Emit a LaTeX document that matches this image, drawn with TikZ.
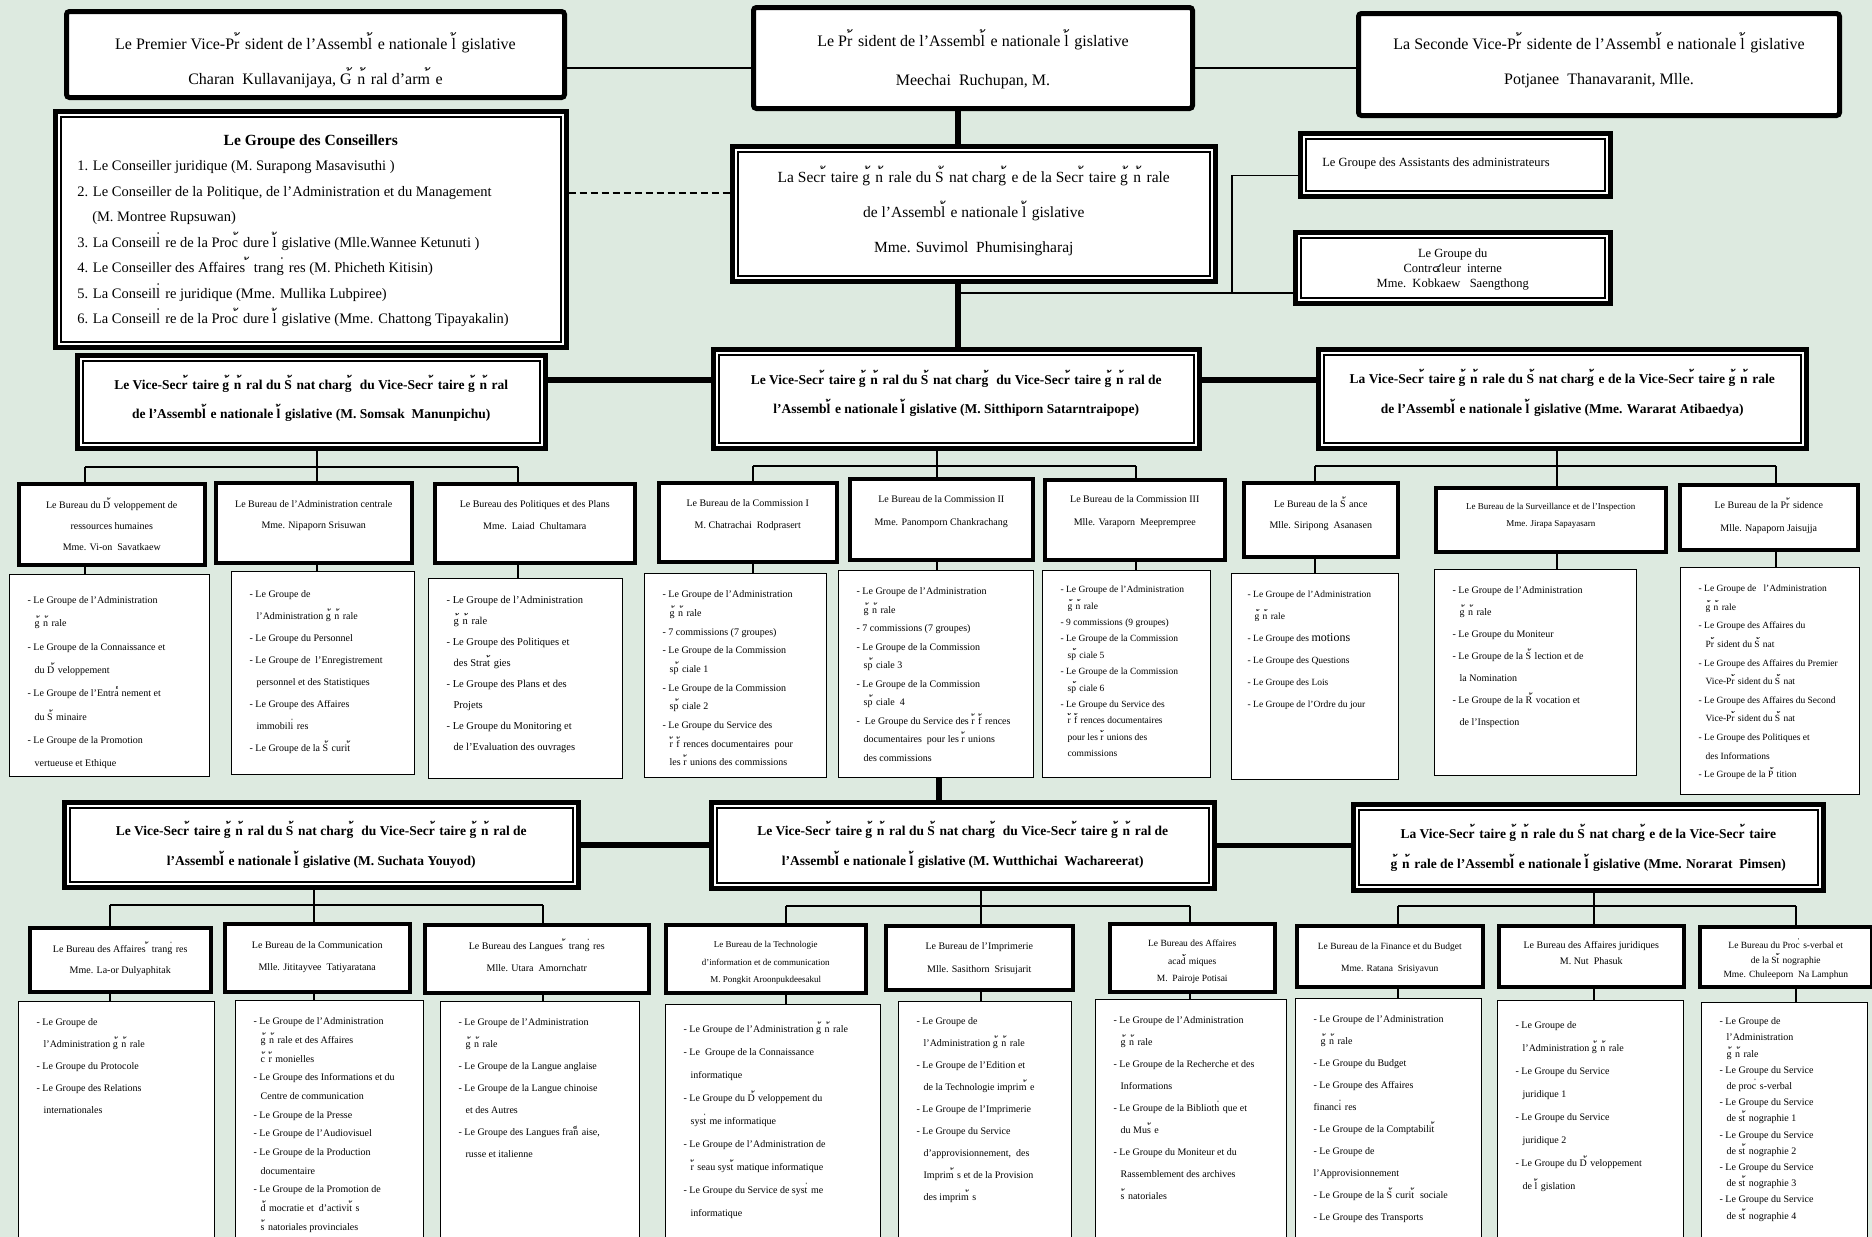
\documentclass[tikz,border=0pt]{standalone}
\usepackage{fontspec}
\setmainfont{Liberation Serif}
\newfontfamily\thaifont[Script=Thai]{Loma}
\definecolor{sage}{RGB}{221,234,224}
\newcommand{\acu}{{\thaifont\char"0E49}\kern0.35em}
\newcommand{\grv}{{\thaifont\char"0E48}\kern0.35em}
\newcommand{\ced}{{\thaifont\char"0E47}\kern0.35em}
\newcommand{\cfl}{{\thaifont\char"0E4E}\kern0.3em}
\newcommand{\cir}{{\thaifont\char"0E54}}
\newcommand{\indt}{\hspace*{7pt}}
\newcommand{\cb}[5]{\parbox[c][#2pt][t]{#1pt}{\centering\leftskip=-40pt plus 1fil\rightskip=-40pt plus 1fil\baselineskip=#4pt\rule{0pt}{#3pt}#5}}
\newcommand{\lb}[6]{\parbox[c][#2pt][t]{#1pt}{\raggedright\leftskip=#5pt\rightskip=-60pt plus 1fil\baselineskip=#4pt\rule{0pt}{#3pt}#6}}
\tikzset{%
chief/.style={draw, line width=5pt, rounded corners=3pt, fill=white, inner sep=0pt, anchor=north west, font=\fontsize{16}{35}\selectfont},
dbl/.style={draw, line width=4.5pt, fill=white, inner sep=0pt, anchor=north west,
  path picture={\draw[line width=1.8pt] ([shift={(5.5pt,5.5pt)}]path picture bounding box.south west) rectangle ([shift={(-5.5pt,-5.5pt)}]path picture bounding box.north east);}},
vsbox/.style={dbl, font=\bfseries\fontsize{13.5}{29}\selectfont},
bureau/.style={draw, line width=3.5pt, fill=white, inner sep=0pt, anchor=north west, font=\fontsize{10}{21}\selectfont},
grp/.style={draw, line width=1.3pt, fill=white, inner sep=0pt, anchor=north west, font=\fontsize{10}{22}\selectfont},
link/.style={line width=1.4pt},
spine/.style={line width=5.5pt},
adv/.style={line width=2pt, dash pattern=on 7pt off 4pt}
}
\begin{document}
\begin{tikzpicture}[x=1pt, y=-1pt]
\useasboundingbox (0,0) rectangle (1872,1237);
\clip (0,0) rectangle (1872,1237);
\fill[sage] (0,0) rectangle (1872,1237);

\node[chief] (tl) at (64,9) {\cb{498}{86}{38}{35}{Le Premier Vice-Pr\acu sident de l’Assembl\acu e nationale l\acu gislative\\Charan\ \ Kullavanijaya, G\acu n\acu ral d’arm\acu e}};
\node[chief] (pres) at (751,5) {\cb{439}{101}{39}{39}{Le Pr\acu sident de l’Assembl\acu e nationale l\acu gislative\\Meechai\ \ Ruchupan, M.}};
\node[chief] (tr) at (1356,11) {\cb{481}{102}{36}{35}{La Seconde Vice-Pr\acu sidente de l’Assembl\acu e nationale l\acu gislative\\Potjanee\ \ Thanavaranit, Mlle.}};

\node[dbl, font=\fontsize{14.5}{25.5}\selectfont] (cons) at (53,109) {\parbox[c][236pt][t]{511pt}{{\centering\rule{0pt}{34pt}\textbf{\fontsize{15.5}{25.5}\selectfont Le Groupe des Conseillers}\par}\raggedright\leftskip=22pt\rightskip=-60pt plus 1fil
1. Le Conseiller juridique (M. Surapong Masavisuthi )\\
2. Le Conseiller de la Politique, de l’Administration et du Management\\
\hspace*{15pt}(M. Montree Rupsuwan)\\
3. La Conseill\grv re de la Proc\acu dure l\acu gislative (Mlle.Wannee Ketunuti )\\
4. Le Conseiller des Affaires \acu trang\grv res (M. Phicheth Kitisin)\\
5. La Conseill\grv re juridique (Mme. Mullika Lubpiree)\\
6. La Conseill\grv re de la Proc\acu dure l\acu gislative (Mme. Chattong Tipayakalin)}};
\node[dbl, font=\fontsize{15.5}{35}\selectfont] (sec) at (730,144) {\cb{483}{135}{36}{35}{La Secr\acu taire g\acu n\acu rale du S\acu nat charg\acu e de la Secr\acu taire g\acu n\acu rale\\de l’Assembl\acu e nationale l\acu gislative\\Mme. Suvimol\ \ Phumisingharaj}};
\node[dbl, font=\fontsize{12.5}{15}\selectfont] (asst) at (1298,131) {\lb{310}{63}{33}{15}{22}{Le Groupe des Assistants des administrateurs}};
\node[dbl, font=\fontsize{12.5}{15}\selectfont] (ctrl) at (1293,230) {\cb{315}{71}{25}{15}{Le Groupe du\\Contr\cir leur\ \ interne\\Mme.\ \ Kobkaew\ \ \ Saengthong}};

\node[vsbox] (vs1l) at (75,353) {\cb{468}{93}{34}{29}{Le Vice-Secr\acu taire g\acu n\acu ral du S\acu nat charg\acu\ du Vice-Secr\acu taire g\acu n\acu ral\\de l’Assembl\acu e nationale l\acu gislative (M. Somsak\ \ Manunpichu)}};
\node[vsbox] (vs1m) at (711,347) {\cb{486}{99}{35}{29}{Le Vice-Secr\acu taire g\acu n\acu ral du S\acu nat charg\acu\ du Vice-Secr\acu taire g\acu n\acu ral de\\l’Assembl\acu e nationale l\acu gislative (M. Sitthiporn Satarntraipope)}};
\node[vsbox] (vs1r) at (1316,347) {\cb{488}{99}{34}{30}{La Vice-Secr\acu taire g\acu n\acu rale du S\acu nat charg\acu e de la Vice-Secr\acu taire g\acu n\acu rale\\de l’Assembl\acu e nationale l\acu gislative (Mme. Wararat Atibaedya)}};

\node[bureau] (b1) at (17,482) {\cb{186}{81}{25}{21}{Le Bureau du D\acu veloppement de\\ressources humaines\\Mme. Vi-on\ \ Savatkaew}};
\node[bureau] (b2) at (214,481) {\cb{196}{80}{25}{21}{Le Bureau de l’Administration centrale\\Mme. Nipaporn Srisuwan}};
\node[bureau] (b3) at (433,482) {\cb{200}{79}{24}{22}{Le Bureau des Politiques et des Plans\\Mme.\ \ Laiad\ \ Chultamara}};
\node[bureau] (b4) at (657,481) {\cb{178}{79}{24}{22}{Le Bureau de la Commission I\\M. Chatrachai\ \ Rodprasert}};
\node[bureau] (b5) at (848,477) {\cb{183}{81}{24}{23}{Le Bureau de la Commission II\\Mme. Panomporn Chankrachang}};
\node[bureau] (b6) at (1043,478) {\cb{180}{80}{23}{23}{Le Bureau de la Commission III\\Mlle. Varaporn\ \ Meeprempree}};
\node[bureau] (b7) at (1242,481) {\cb{154}{74}{25}{21}{Le Bureau de la S\acu ance\\Mlle. Siripong\ \ Asanasen}};
\node[bureau, font=\fontsize{9}{17}\selectfont] (b8) at (1434,486) {\cb{230}{64}{22}{17}{Le Bureau de la Surveillance et de l’Inspection\\Mme. Jirapa Sapayasarn}};
\node[bureau] (b9) at (1678,483) {\cb{178}{65}{24}{23}{Le Bureau de la Pr\acu sidence\\Mlle. Napaporn Jaisujja}};

\node[grp] (g1) at (9,574) {\lb{200}{202}{29}{23.3}{18}{- Le Groupe de l’Administration\\\indt g\acu n\acu rale\\- Le Groupe de la Connaissance et\\\indt du D\acu veloppement\\- Le Groupe de l’Entra\cfl nement et\\\indt du S\acu minaire\\- Le Groupe de la Promotion\\\indt vertueuse et Ethique}};
\node[grp] (g2) at (231,571) {\lb{183}{203}{26}{22}{18}{- Le Groupe de\\\indt l’Administration g\acu n\acu rale\\- Le Groupe du Personnel\\- Le Groupe de\ \ l’Enregistrement\\\indt personnel et des Statistiques\\- Le Groupe des Affaires\\\indt immobili\grv res\\- Le Groupe de la S\acu curit\acu}};
\node[grp, font=\fontsize{10.5}{21}\selectfont] (g3) at (428,578) {\lb{194}{200}{25}{21}{18}{- Le Groupe de l’Administration\\\indt g\acu n\acu rale\\- Le Groupe des Politiques et\\\indt des Strat\acu gies\\- Le Groupe des Plans et des\\\indt Projets\\- Le Groupe du Monitoring et\\\indt de l’Evaluation des ouvrages}};
\node[grp] (g4) at (644,573) {\lb{182}{204}{24}{18.7}{18}{- Le Groupe de l’Administration\\\indt g\acu n\acu rale\\- 7 commissions (7 groupes)\\- Le Groupe de la Commission\\\indt sp\acu ciale 1\\- Le Groupe de la Commission\\\indt sp\acu ciale 2\\- Le Groupe du Service des\\\indt r\acu f\acu rences documentaires\ \ pour\\\indt les r\acu unions des commissions}};
\node[grp] (g5) at (838,570) {\lb{195}{207}{24}{18.5}{18}{- Le Groupe de l’Administration\\\indt g\acu n\acu rale\\- 7 commissions (7 groupes)\\- Le Groupe de la Commission\\\indt sp\acu ciale 3\\- Le Groupe de la Commission\\\indt sp\acu ciale\ \ 4\\-\ \ Le Groupe du Service des r\acu f\acu rences\\\indt documentaires\ \ pour les r\acu unions\\\indt des commissions}};
\node[grp, font=\fontsize{9.5}{16.4}\selectfont] (g6) at (1042,570) {\lb{168}{207}{22}{16.4}{18}{- Le Groupe de l’Administration\\\indt g\acu n\acu rale\\- 9 commissions (9 groupes)\\- Le Groupe de la Commission\\\indt sp\acu ciale 5\\- Le Groupe de la Commission\\\indt sp\acu ciale 6\\- Le Groupe du Service des\\\indt r\acu f\acu rences documentaires\\\indt pour les r\acu unions des\\\indt commissions}};
\node[grp, font=\fontsize{9.5}{22}\selectfont] (g7) at (1231,573) {\lb{167}{206}{24}{22}{16}{- Le Groupe de l’Administration\\\indt g\acu n\acu rale\\- Le Groupe des {\fontsize{12}{22}\selectfont motions}\\- Le Groupe des Questions\\- Le Groupe des Lois\\- Le Groupe de l’Ordre du jour}};
\node[grp] (g8) at (1434,569) {\lb{202}{206}{24}{22}{18}{- Le Groupe de l’Administration\\\indt g\acu n\acu rale\\- Le Groupe du Moniteur\\- Le Groupe de la S\acu lection et de\\\indt la Nomination\\- Le Groupe de la R\acu vocation et\\\indt de l’Inspection}};
\node[grp, font=\fontsize{9.5}{18.6}\selectfont] (g9) at (1680,567) {\lb{179}{227}{24}{18.6}{18}{- Le Groupe de\ \ \ l’Administration\\\indt g\acu n\acu rale\\- Le Groupe des Affaires du\\\indt Pr\acu sident du S\acu nat\\- Le Groupe des Affaires du Premier\\\indt Vice-Pr\acu sident du S\acu nat\\- Le Groupe des Affaires du Second\\\indt Vice-Pr\acu sident du S\acu nat\\- Le Groupe des Politiques et\\\indt des Informations\\- Le Groupe de la P\acu tition}};

\node[vsbox] (vs2l) at (62,800) {\cb{514}{85}{33}{30}{Le Vice-Secr\acu taire g\acu n\acu ral du S\acu nat charg\acu\ du Vice-Secr\acu taire g\acu n\acu ral de\\l’Assembl\acu e nationale l\acu gislative (M. Suchata Youyod)}};
\node[vsbox] (vs2m) at (709,800) {\cb{503}{86}{33}{30}{Le Vice-Secr\acu taire g\acu n\acu ral du S\acu nat charg\acu\ du Vice-Secr\acu taire g\acu n\acu ral de\\l’Assembl\acu e nationale l\acu gislative (M. Wutthichai\ \ Wachareerat)}};
\node[vsbox] (vs2r) at (1351,802) {\cb{470}{86}{34}{30}{La Vice-Secr\acu taire g\acu n\acu rale du S\acu nat charg\acu e de la Vice-Secr\acu taire\\g\acu n\acu rale de l’Assembl\acu e nationale l\acu gislative (Mme. Norarat\ \ Pimsen)}};

\node[bureau] (b10) at (28,926) {\cb{181}{64}{25}{21}{Le Bureau des Affaires \acu trang\grv res\\Mme. La-or Dulyaphitak}};
\node[bureau] (b11) at (223,922) {\cb{185}{68}{25}{22}{Le Bureau de la Communication\\Mlle. Jititayvee\ \ Tatiyaratana}};
\node[bureau] (b12) at (423,923) {\cb{224}{68}{25}{22}{Le Bureau des Langues \acu trang\grv res\\Mlle. Utara\ \ Amornchatr}};
\node[bureau, font=\fontsize{9}{17.5}\selectfont] (b13) at (664,923) {\cb{200}{68}{23}{17.5}{Le Bureau de la Technologie\\d’information et de communication\\M. Pongkit Aroonpukdeesakul}};
\node[bureau] (b14) at (884,924) {\cb{187}{64}{24}{23}{Le Bureau de l’Imprimerie\\Mlle. Sasithorn\ \ Srisujarit}};
\node[bureau, font=\fontsize{9.5}{17.5}\selectfont] (b15) at (1108,922) {\cb{165}{68}{23}{17.5}{Le Bureau des Affaires\\acad\acu miques\\M.\ \ Pairoje Potisai}};
\node[bureau, font=\fontsize{9.5}{22}\selectfont] (b16) at (1295,924) {\cb{186}{61}{24}{22}{Le Bureau de la Finance et du Budget\\Mme. Ratana\ \ Srisiyavun}};
\node[bureau] (b17) at (1497,924) {\cb{185}{61}{23}{16}{Le Bureau des Affaires juridiques\\M. Nut\ \ Phasuk}};
\node[bureau, font=\fontsize{9.5}{14.5}\selectfont] (b18) at (1698,925) {\cb{172}{60}{22}{14.5}{Le Bureau du Proc\grv s-verbal et\\de la St\acu nographie\\Mme. Chuleeporn\ \ Na Lamphun}};

\node[grp] (g10) at (18,1001) {\lb{196}{250}{24}{22}{18}{- Le Groupe de\\\indt l’Administration g\acu n\acu rale\\- Le Groupe du Protocole\\- Le Groupe des Relations\\\indt internationales}};
\node[grp] (g11) at (235,1000) {\lb{188}{250}{24}{18.7}{18}{- Le Groupe de l’Administration\\\indt g\acu n\acu rale et des Affaires\\\indt c\acu r\acu monielles\\- Le Groupe des Informations et du\\\indt Centre de communication\\- Le Groupe de la Presse\\- Le Groupe de l’Audiovisuel\\- Le Groupe de la Production\\\indt documentaire\\- Le Groupe de la Promotion de\\\indt d\acu mocratie et\ \ d’activit\acu s\\\indt s\acu natoriales provinciales}};
\node[grp] (g12) at (440,1001) {\lb{199}{250}{24}{22}{18}{- Le Groupe de l’Administration\\\indt g\acu n\acu rale\\- Le Groupe de la Langue anglaise\\- Le Groupe de la Langue chinoise\\\indt et des Autres\\- Le Groupe des Langues fran\ced aise,\\\indt russe et italienne}};
\node[grp] (g13) at (665,1004) {\lb{215}{250}{28}{23}{18}{- Le Groupe de l’Administration g\acu n\acu rale\\- Le\ \ Groupe de la Connaissance\\\indt informatique\\- Le Groupe du D\acu veloppement du\\\indt syst\grv me informatique\\- Le Groupe de l’Administration de\\\indt r\acu seau syst\acu matique informatique\\- Le Groupe du Service de syst\grv me\\\indt informatique}};
\node[grp] (g14) at (898,1001) {\lb{173}{250}{23}{22}{18}{- Le Groupe de\\\indt l’Administration g\acu n\acu rale\\- Le Groupe de l’Edition et\\\indt de la Technologie imprim\acu e\\- Le Groupe de l’Imprimerie\\- Le Groupe du Service\\\indt d’approvisionnement,\ \ des\\\indt Imprim\acu s et de la Provision\\\indt des imprim\acu s}};
\node[grp] (g15) at (1095,999) {\lb{191}{250}{24}{22}{18}{- Le Groupe de l’Administration\\\indt g\acu n\acu rale\\- Le Groupe de la Recherche et des\\\indt Informations\\- Le Groupe de la Biblioth\grv que et\\\indt du Mus\acu e\\- Le Groupe du Moniteur et du\\\indt Rassemblement des archives\\\indt s\acu natoriales}};
\node[grp] (g16) at (1295,998) {\lb{186}{250}{24}{22}{18}{- Le Groupe de l’Administration\\\indt g\acu n\acu rale\\- Le Groupe du Budget\\- Le Groupe des Affaires\\financi\grv res\\- Le Groupe de la Comptabilit\acu\\- Le Groupe de\\l’Approvisionnement\\- Le Groupe de la S\acu curit\acu\ sociale\\- Le Groupe des Transports}};
\node[grp] (g17) at (1497,1000) {\lb{186}{250}{28}{23}{18}{- Le Groupe de\\\indt l’Administration g\acu n\acu rale\\- Le Groupe du Service\\\indt juridique 1\\- Le Groupe du Service\\\indt juridique 2\\- Le Groupe du D\acu veloppement\\\indt de l\acu gislation}};
\node[grp] (g18) at (1701,1002) {\lb{166}{250}{22}{16.2}{18}{- Le Groupe de\\\indt l’Administration\\\indt g\acu n\acu rale\\- Le Groupe du Service\\\indt de proc\grv s-verbal\\- Le Groupe du Service\\\indt de st\acu nographie 1\\- Le Groupe du Service\\\indt de st\acu nographie 2\\- Le Groupe du Service\\\indt de st\acu nographie 3\\- Le Groupe du Service\\\indt de st\acu nographie 4}};

\coordinate (yt) at (0,68);
\coordinate (yd) at (0,193);
\coordinate (sp) at (958,0);
\coordinate (sq) at (939,0);
\coordinate (k1) at (1232,293);
\coordinate (yv) at (0,380);
\coordinate (d1) at (85,467);
\coordinate (d2) at (317,467);
\coordinate (d3) at (518,467);
\coordinate (d4) at (753,466);
\coordinate (d5) at (937,466);
\coordinate (d6) at (1136,466);
\coordinate (d7) at (1315,466);
\coordinate (d8) at (1557,466);
\coordinate (d9) at (1776,466);
\coordinate (d10) at (110,905);
\coordinate (d11) at (314,905);
\coordinate (d12) at (543,905);
\coordinate (d13) at (786,906);
\coordinate (d14) at (981,906);
\coordinate (d15) at (1190,906);
\coordinate (d16) at (1398,906);
\coordinate (d17) at (1594,906);
\coordinate (d18) at (1796,906);

\draw[link] (tl.east |- yt) -- (pres.west |- yt);
\draw[link] (pres.east |- yt) -- (tr.west |- yt);
\draw[adv] (cons.east |- yd) -- (sec.west |- yd);
\draw[spine] (pres.south -| sp) -- (sec.north -| sp);
\draw[spine] (sec.south -| sp) -- (vs1m.north -| sp);
\draw[link] (sp |- k1) -- (ctrl.west |- k1);
\draw[link] (k1) |- ([yshift=-10.5pt]asst.west);
\draw[spine] (vs1l.east |- yv) -- (vs1m.west |- yv);
\draw[spine] (vs1m.east |- yv) -- (vs1r.west |- yv);
\draw[spine] (g5.south -| sq) -- (vs2m.north -| sq);
\draw[spine] (vs2l.east) -- (vs2l.east -| vs2m.west);
\draw[spine] (vs2m.east) -- (vs2m.east -| vs2r.west);

\draw[link] (vs1l.south -| d2) -- (d2);
\draw[link] (d1) -- (d3);
\draw[link] (d1) -- (d1 |- b1.north);
\draw[link] (d2) -- (d2 |- b2.north);
\draw[link] (d3) -- (d3 |- b3.north);
\draw[link] (vs1m.south -| d5) -- (d5);
\draw[link] (d4) -- (d6);
\draw[link] (d4) -- (d4 |- b4.north);
\draw[link] (d5) -- (d5 |- b5.north);
\draw[link] (d6) -- (d6 |- b6.north);
\draw[link] (vs1r.south -| d8) -- (d8);
\draw[link] (d7) -- (d9);
\draw[link] (d7) -- (d7 |- b7.north);
\draw[link] (d8) -- (d8 |- b8.north);
\draw[link] (d9) -- (d9 |- b9.north);
\draw[link] (vs2l.south -| d11) -- (d11);
\draw[link] (d10) -- (d12);
\draw[link] (d10) -- (d10 |- b10.north);
\draw[link] (d11) -- (d11 |- b11.north);
\draw[link] (d12) -- (d12 |- b12.north);
\draw[link] (vs2m.south -| d14) -- (d14);
\draw[link] (d13) -- (d15);
\draw[link] (d13) -- (d13 |- b13.north);
\draw[link] (d14) -- (d14 |- b14.north);
\draw[link] (d15) -- (d15 |- b15.north);
\draw[link] (vs2r.south -| d17) -- (d17);
\draw[link] (d16) -- (d18);
\draw[link] (d16) -- (d16 |- b16.north);
\draw[link] (d17) -- (d17 |- b17.north);
\draw[link] (d18) -- (d18 |- b18.north);

\draw[link] (d1 |- b1.south) -- (d1 |- g1.north);
\draw[link] (d2 |- b2.south) -- (d2 |- g2.north);
\draw[link] (d3 |- b3.south) -- (d3 |- g3.north);
\draw[link] (d4 |- b4.south) -- (d4 |- g4.north);
\draw[link] (d5 |- b5.south) -- (d5 |- g5.north);
\draw[link] (d6 |- b6.south) -- (d6 |- g6.north);
\draw[link] (d7 |- b7.south) -- (d7 |- g7.north);
\draw[link] (d8 |- b8.south) -- (d8 |- g8.north);
\draw[link] (d9 |- b9.south) -- (d9 |- g9.north);
\draw[link] (d10 |- b10.south) -- (d10 |- g10.north);
\draw[link] (d11 |- b11.south) -- (d11 |- g11.north);
\draw[link] (d12 |- b12.south) -- (d12 |- g12.north);
\draw[link] (d13 |- b13.south) -- (d13 |- g13.north);
\draw[link] (d14 |- b14.south) -- (d14 |- g14.north);
\draw[link] (d15 |- b15.south) -- (d15 |- g15.north);
\draw[link] (d16 |- b16.south) -- (d16 |- g16.north);
\draw[link] (d17 |- b17.south) -- (d17 |- g17.north);
\draw[link] (d18 |- b18.south) -- (d18 |- g18.north);
\end{tikzpicture}
\end{document}
